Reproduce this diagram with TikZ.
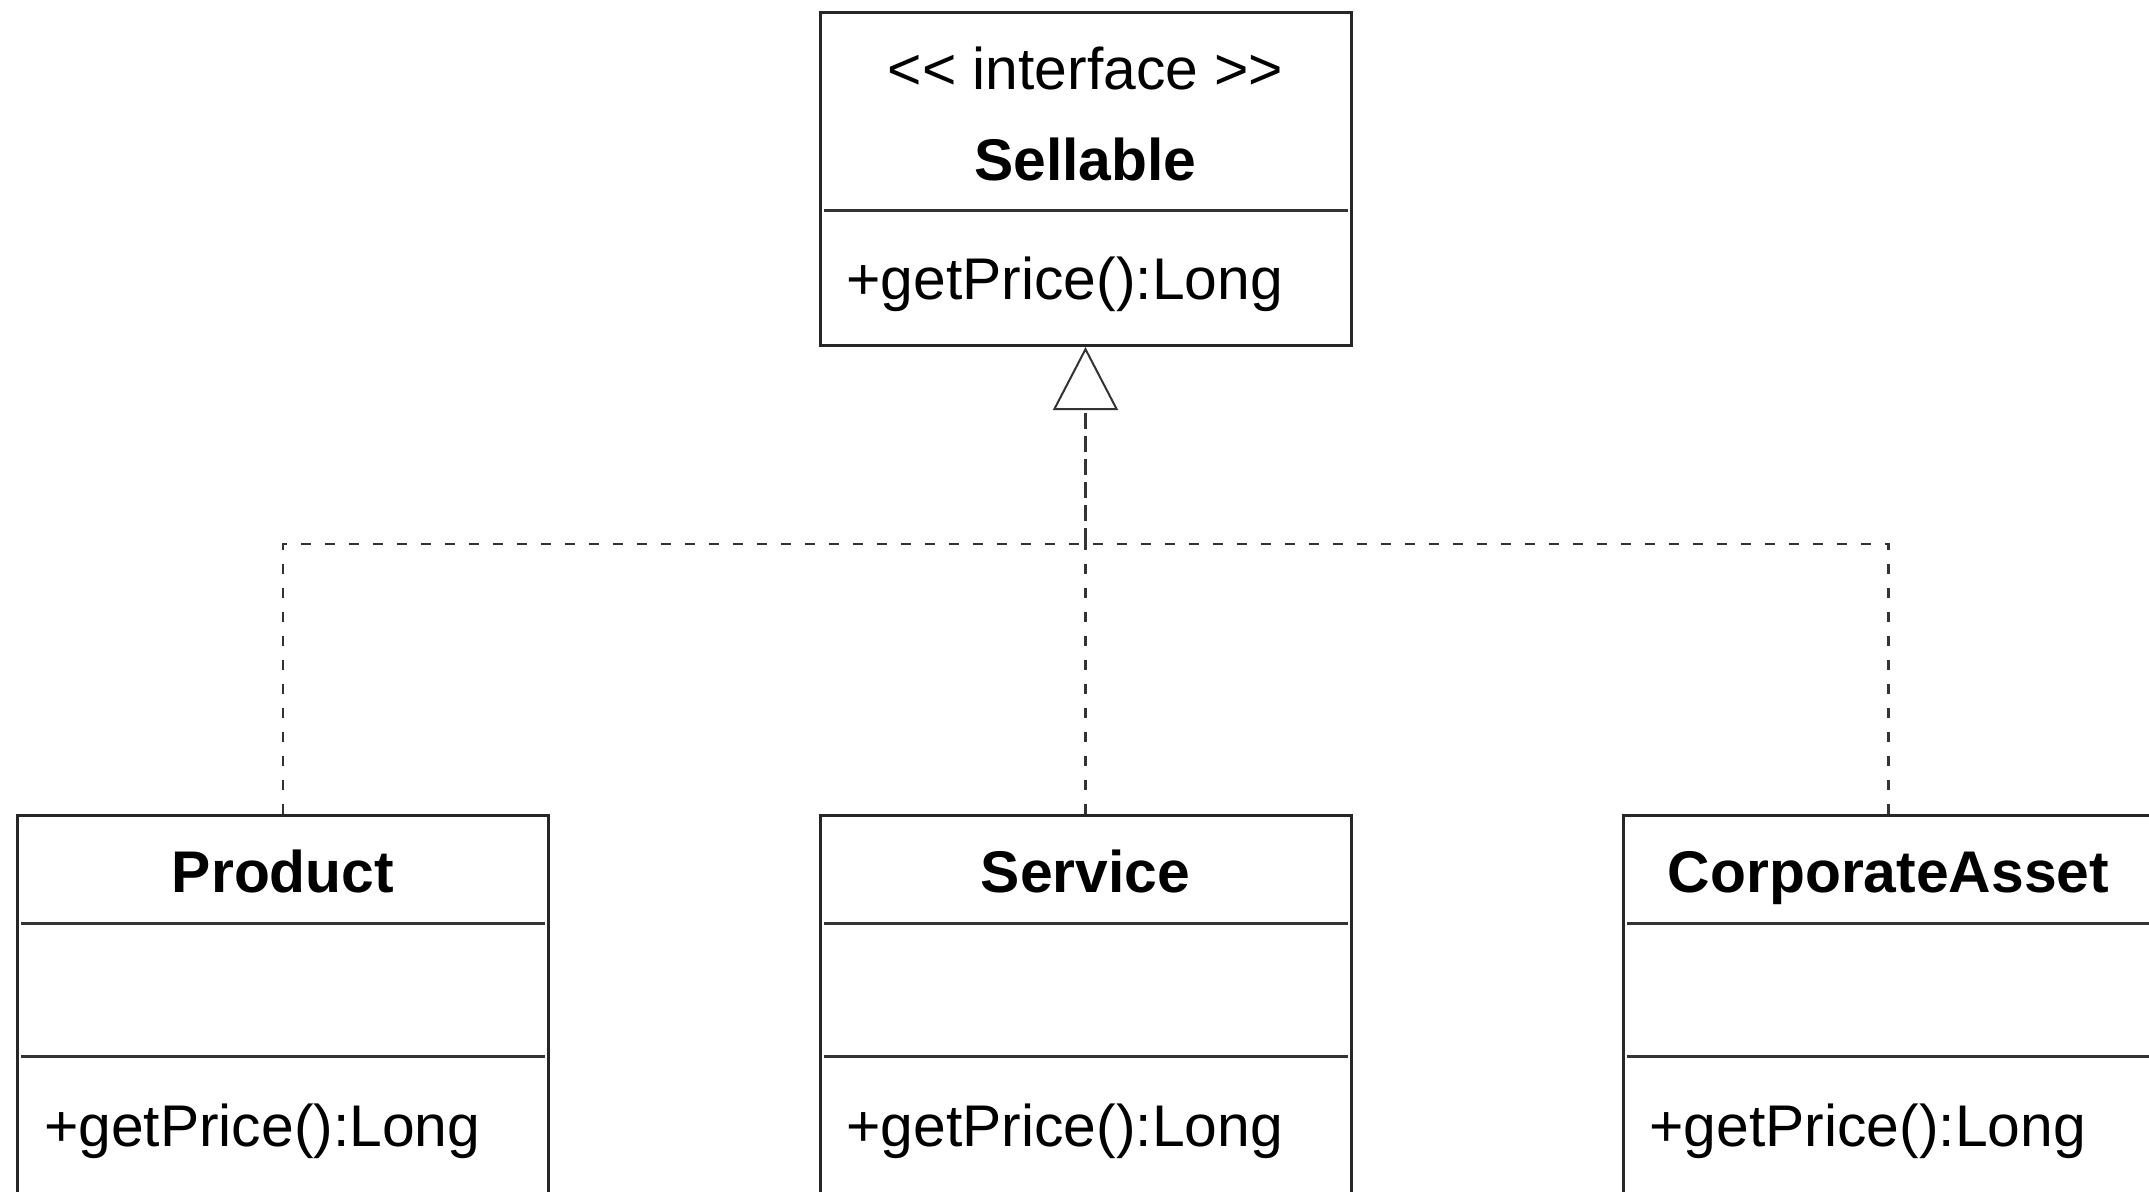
\documentclass[tikz,border=0pt]{standalone}
\usepackage{fontspec}
\setmainfont{Liberation Sans}
\usetikzlibrary{arrows.meta}

\begin{document}
\begin{tikzpicture}[x=0.5pt,y=-0.5pt,
	every node/.style={font=\fontsize{29.4}{35}\selectfont},
	classbox/.style={draw=black!85,line width=1.5pt,minimum width=265.5pt,inner sep=0pt,anchor=north},
	classname/.style={anchor=base,font=\fontsize{29.4}{35}\selectfont\bfseries},
	sepline/.style={draw=black!80,line width=1.5pt},
	realize/.style={draw=black!80,line width=1.2pt,dash pattern=on 8pt off 3.5pt},
	branch/.style={draw=black!80,line width=1.2pt,dash pattern=on 5pt off 7pt}]
	\clip (0,0) rectangle (2149,1191);
	% interface
	\node[classbox,minimum height=166.5pt] (sellable) at (1085.5,11) {};
	\node[anchor=base] (stereo) at (1085.5,89) {<\kern0pt< interface >\kern0pt>};
	\node[classname] (sellable-title) at (1085.5,180) {Sellable};
	\node[anchor=base west] (sellable-op) at (839.5,299) {+getPrice():Long};
	\draw[sepline] ([shift={(5,199)}]sellable.north west) -- ([shift={(-5,199)}]sellable.north east);
	%
	% implementing classes
	\foreach \id/\cname/\x in {product/Product/283,service/Service/1085.5,corporate/CorporateAsset/1888.5}{
		\node[classbox,minimum height=243pt] (\id) at (\x,814) {};
		\node[classname] (\id-title) at (\x,892) {\cname};
		\node[anchor=base west] (\id-op) at (\x-246,1146) {+getPrice():Long};
		\draw[sepline] ([shift={(5,109)}]\id.north west) -- ([shift={(-5,109)}]\id.north east);
		\draw[sepline] ([shift={(5,242)}]\id.north west) -- ([shift={(-5,242)}]\id.north east);
	}
	%
	\coordinate (junction) at (1085.5,544);
	\draw[realize,-{Triangle[open,width=32.5pt,length=31.5pt,line width=1pt]}] (junction) -- (sellable.south);
	\draw[branch] (product.north) |- (junction);
	\draw[branch] (service.north) -- (junction);
	\draw[branch] (corporate.north) |- (junction);
\end{tikzpicture}
\end{document}
